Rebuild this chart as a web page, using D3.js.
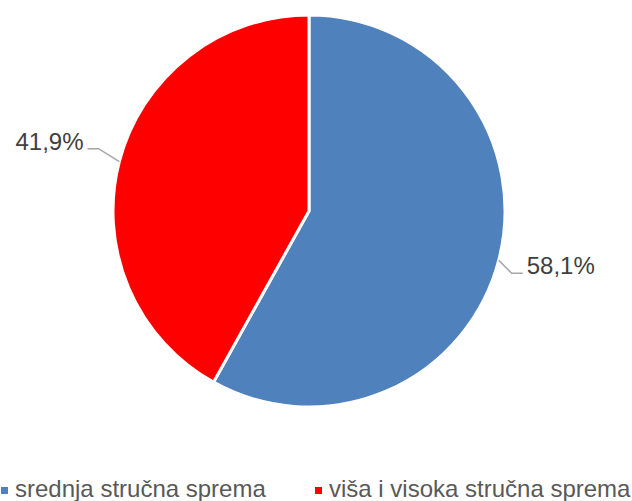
<!DOCTYPE html>
<html><head><meta charset="utf-8">
<script src="https://cdn.jsdelivr.net/npm/d3@7"></script>
<style>body{margin:0;background:#fff}svg{display:block}</style>
</head><body><svg id="c" width="632" height="501"></svg>
<script>
const categories = ["srednja stručna sprema", "viša i visoka stručna sprema"];
const values = [58.1, 41.9];
const labels = ["58,1%", "41,9%"];
const colors = ["#4F81BD", "#FF0000"];

const svg = d3.select("#c");
const cx = 309, cy = 211, r = 196;
const g = svg.append("g").attr("transform", `translate(${cx},${cy})`);
const pie = d3.pie().sort(null).value(d => d)(values);
const arc = d3.arc().innerRadius(0).outerRadius(r);
g.selectAll("path").data(pie).join("path")
  .attr("d", arc).attr("fill", (d, i) => colors[i])
  .attr("stroke", "#fff").attr("stroke-width", 3).attr("stroke-linejoin", "round");

pie.forEach((d, i) => {
  const a = (d.startAngle + d.endAngle) / 2;
  const x0 = r * Math.sin(a), y0 = -r * Math.cos(a);
  const side = x0 >= 0 ? 1 : -1;
  const dy = y0 >= 0 ? 13 : -13;
  const x1 = x0 + side * Math.abs(dy) * (side > 0 ? 1 : 1.6), y1 = y0 + dy;
  const x2 = x1 + side * 11;
  g.append("polyline").attr("points", `${x0},${y0} ${x1},${y1} ${x2},${y1}`)
    .attr("fill", "none").attr("stroke", "#A6A6A6").attr("stroke-width", 1.5);
  g.append("text").attr("x", x2 + side * 4).attr("y", y1 + 1)
    .attr("text-anchor", side > 0 ? "start" : "end")
    .attr("font-family", "Liberation Sans, Arial, sans-serif").attr("font-size", 24)
    .attr("fill", "#404040").text(labels[i]);
});

const legX = [1, 315];
categories.forEach((c, i) => {
  svg.append("rect").attr("x", legX[i]).attr("y", 487).attr("width", 7).attr("height", 7).attr("fill", colors[i]);
  svg.append("text").attr("x", legX[i] + 14).attr("y", 497)
    .attr("font-family", "Liberation Sans, Arial, sans-serif").attr("font-size", 24)
    .attr("fill", "#595959").text(c);
});
</script></body></html>
